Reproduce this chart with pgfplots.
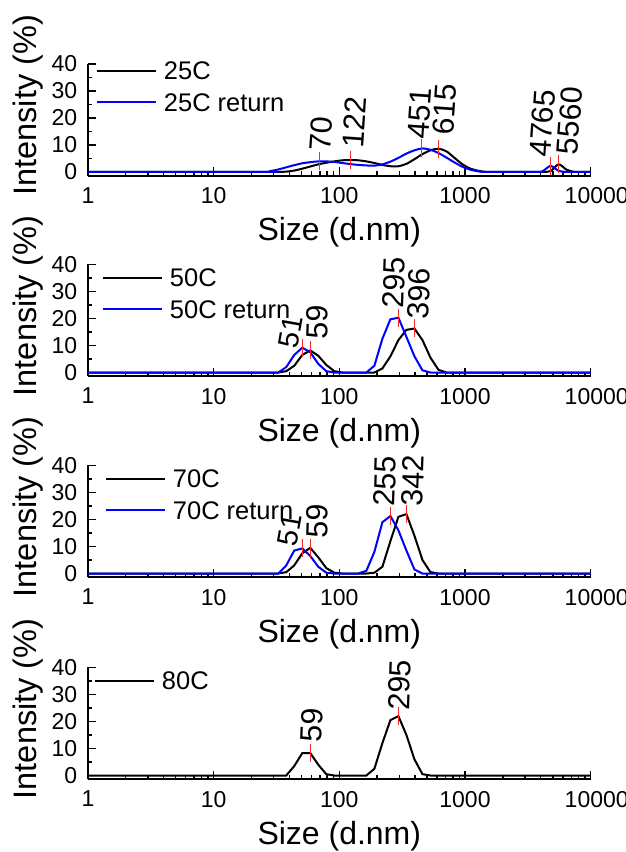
\documentclass[border=0pt]{standalone}
\usepackage{fontspec}
\setmainfont{Liberation Sans}
\usepackage{graphicx}
\usepackage{pgfplots}
\pgfplotsset{compat=1.18}
\definecolor{myblue}{RGB}{0,0,255}
\definecolor{myred}{RGB}{255,40,40}
\pgfplotsset{
  dlspanel/.style={
    scale only axis, width=502.8pt, height=111.8pt,
    anchor=south west,
    xmin=1, xmax=10000, ymin=-1.4, ymax=40,
    clip=false,
    axis lines=left, axis line style={-, line width=1.8pt},
    xtick={1,10,100,1000,10000}, xticklabels={1,10,100,1000,\hspace*{12pt}10000},
    minor xtick={2,3,...,9,20,30,...,90,200,300,...,900,2000,3000,...,9000},
    ytick={0,10,20,30,40}, yticklabels={0,10,20,30,40},
    minor ytick={5,15,25,35},
    tick align=inside, major tick length=8.5pt, minor tick length=4.5pt,
    every tick/.style={line width=1.4pt, black},
    tick label style={font=\fontsize{23}{23}\selectfont},
    xticklabel style={inner sep=0pt, anchor=north, yshift=-11.5pt},
    yticklabel style={inner sep=0pt, anchor=east, xshift=-10.6pt},
    every axis x label/.style={at={(axis description cs:0.5,-0.51)}, anchor=center, font=\fontsize{32}{32}\selectfont},
    every axis y label/.style={at={(axis description cs:-0.118,0.63)}, rotate=90, anchor=center, font=\fontsize{32.5}{32.5}\selectfont},
    xlabel={Size (d.nm)}, ylabel={Intensity (\%)},
    legend image code/.code={\draw[#1] (0pt,0pt) -- (59pt,0pt);},
    legend cell align=left,
    legend style={draw=none, fill=none, inner sep=0pt, outer sep=0pt,
      at={(axis description cs:0,1)}, anchor=north west,
      font=\fontsize{25.5}{25.5}\selectfont, row sep=13.5pt, column sep=7pt,
      nodes={inner sep=0pt, text depth=0pt, text height=18pt}},
  },
  curve/.style={line width=2pt, mark=none},
  peakmark/.style={only marks, mark=|, mark size=9pt, mark options={myred, line width=1.2pt}, forget plot},
  peaklabel/.style={draw=none, mark=none, forget plot,
    nodes near coords={\scalebox{1.27}{\pgfplotspointmeta}}, point meta=explicit symbolic,
    every node near coord/.append style={rotate=#1, anchor=west, inner sep=0pt, black, font=\fontsize{24}{28}\selectfont}},
  peaklabel/.default=87,
  peaklabelsmall/.style={draw=none, mark=none, forget plot,
    nodes near coords={\scalebox{1.2}{\pgfplotspointmeta}}, point meta=explicit symbolic,
    every node near coord/.append style={rotate=80, anchor=west, inner sep=0pt, black, font=\fontsize{24}{28}\selectfont}},
}
\begin{document}
\begin{tikzpicture}
\useasboundingbox (0,0) rectangle (626pt,852pt);
% ---------- Panel 1 ----------
\begin{semilogxaxis}[dlspanel, at={(87.9pt,676.3pt)},
  legend style={xshift=8pt, yshift=2pt}]
\addplot[curve, black, smooth, tension=0.5] coordinates {
(1,0) (24.36,0) (28.21,0) (32.67,0) (37.84,0.1) (43.82,0.5) (50.75,1.2) (58.77,2.0) (68.06,2.8) (78.82,3.4) (91.28,3.9) (105.7,4.3) (122.4,4.4) (141.8,4.3) (164.2,3.9) (190.1,3.3) (220.2,2.6) (255.0,2.1) (295.3,2.1) (342.0,3.0) (396.1,4.7) (458.7,6.6) (531.2,8.0) (615.1,8.6) (712.4,7.6) (825.0,5.2) (955.4,2.8) (1106,1.2) (1281,0.4) (1484,0) (1718,0) (3579,0) (4145,0) (4801,0.3) (5560,2.8) (6439,0.8) (7457,0) (8636,0) (10000,0)};
\addlegendentry{25C}
\addplot[curve, myblue, smooth, tension=0.5] coordinates {
(1,0) (24.36,0) (28.21,0.3) (32.67,0.9) (37.84,1.7) (43.82,2.5) (50.75,3.2) (58.77,3.6) (68.06,3.9) (78.82,3.9) (91.28,3.7) (105.7,3.3) (122.4,2.9) (141.8,2.6) (164.2,2.4) (190.1,2.3) (220.2,2.8) (255.0,3.8) (295.3,5.2) (342.0,6.8) (396.1,8.0) (458.7,8.7) (531.2,8.2) (615.1,7.0) (712.4,5.3) (825.0,3.5) (955.4,1.9) (1106,0.8) (1281,0.2) (1484,0) (3579,0) (4145,0.3) (4801,2.2) (5560,0.4) (6439,0) (8636,0) (10000,0)};
\addlegendentry{25C return}
\addplot[peakmark] coordinates {(70,3.9) (122,4.4) (451,8.7) (615,8.6) (4765,2.2) (5560,2.8)};
\addplot[peaklabel=86] coordinates {(70.2,7.7) [70] (127.8,8.9) [122] (423,12.3) [451] (665,13.6) [615] (3951,5.4) [4765] (6515,6.4) [5560]};
\end{semilogxaxis}
% ---------- Panel 2 ----------
\begin{semilogxaxis}[dlspanel, at={(87.9pt,475.7pt)},
  legend style={xshift=14pt, yshift=-4.3pt}]
\addplot[curve, black] coordinates {
(1,0) (32.67,0) (37.84,0.5) (43.82,2.5) (50.75,6.5) (58.77,8.2) (68.06,6.2) (78.82,2.8) (91.28,0.5) (105.7,0) (190.1,0) (220.2,1.5) (255.0,6) (295.3,12) (342.0,15.8) (396.1,16.3) (458.7,12) (531.2,5.5) (615.1,1) (712.4,0) (10000,0)};
\addlegendentry{50C}
\addplot[curve, myblue] coordinates {
(1,0) (32.67,0) (37.84,2) (43.82,6.5) (50.75,9.2) (58.77,7.5) (68.06,3.2) (78.82,0.5) (91.28,0) (164.2,0) (190.1,2.5) (220.2,12.5) (255.0,19.7) (295.3,20.3) (342.0,13.2) (396.1,6) (458.7,0.8) (531.2,0) (10000,0)};
\addlegendentry{50C return}
\addplot[peakmark] coordinates {(51,9.2) (59,8.2) (295,20.3) (396,16.3)};
\addplot[peaklabelsmall] coordinates {(39,9.2) [51]};
\addplot[peaklabel=88] coordinates {(66.1,12.3) [59] (269,23.7) [295] (425,19.8) [396]};
\end{semilogxaxis}
% ---------- Panel 3 ----------
\begin{semilogxaxis}[dlspanel, at={(87.9pt,274.7pt)},
  legend style={xshift=17pt, yshift=-4.3pt}]
\addplot[curve, black] coordinates {
(1,0) (32.67,0) (37.84,0.5) (43.82,3) (50.75,7.5) (58.77,9.5) (68.06,6) (78.82,2) (91.28,0.3) (105.7,0) (164.2,0) (190.1,0.3) (220.2,2.5) (255.0,12) (295.3,21) (342.0,22) (396.1,14) (458.7,5) (531.2,0.5) (615.1,0) (10000,0)};
\addlegendentry{70C}
\addplot[curve, myblue] coordinates {
(1,0) (32.67,0) (37.84,3) (43.82,8.5) (50.75,9.3) (58.77,6.5) (68.06,2.5) (78.82,0.3) (91.28,0) (141.8,0) (164.2,1) (190.1,8) (220.2,19) (255.0,21.3) (295.3,16) (342.0,8.5) (396.1,1.5) (458.7,0) (10000,0)};
\addlegendentry{70C return}
\addplot[peakmark] coordinates {(51,9.3) (59,9.5) (255,21.3) (342,22)};
\addplot[peaklabelsmall] coordinates {(38.3,10.2) [51]};
\addplot[peaklabel=88] coordinates {(66,13.2) [59] (228,24.7) [255] (381,25) [342]};
\end{semilogxaxis}
% ---------- Panel 4 ----------
\begin{semilogxaxis}[dlspanel, at={(87.9pt,72.7pt)},
  legend style={xshift=6pt, yshift=-4.3pt}]
\addplot[curve, black] coordinates {
(1,0) (37.84,0) (43.82,3.5) (50.75,8.3) (58.77,8.3) (68.06,4) (78.82,0.5) (91.28,0) (164.2,0) (190.1,2.5) (220.2,12) (255.0,20.5) (295.3,22) (342.0,15) (396.1,6) (458.7,0.5) (531.2,0) (10000,0)};
\addlegendentry{80C}
\addplot[peakmark] coordinates {(59,8.3) (295,22)};
\addplot[peaklabel=88] coordinates {(59.8,12.3) [59] (297,24) [295]};
\end{semilogxaxis}
\end{tikzpicture}
\end{document}
